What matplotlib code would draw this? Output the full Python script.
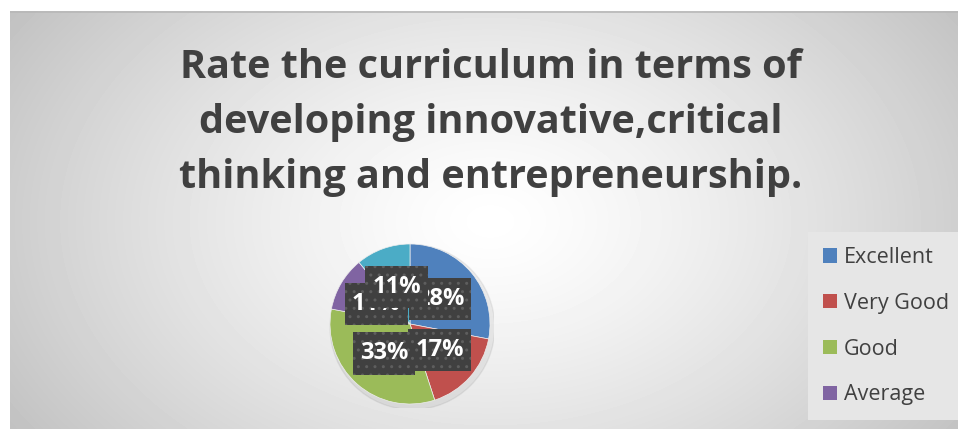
import numpy as np
import matplotlib
matplotlib.use("Agg")
import matplotlib.pyplot as plt
from matplotlib.patches import Patch

# data
categories = ["Excellent", "Very Good", "Good", "Average", "Poor"]
shares = [28, 17, 33, 11, 11]
slice_colors = ["#4F81BD", "#C0504D", "#9BBB59", "#8064A2", "#4BACC6"]
legend_shown = 4  # the fifth entry is cut off in the original
title_lines = ["Rate the curriculum in terms of",
               "developing innovative,critical",
               "thinking and entrepreneurship."]

W, H = 958, 429
plt.rcParams['font.family'] = ['Open Sans', 'DejaVu Sans']
fig = plt.figure(figsize=(W / 100, H / 100), dpi=100)
fig.patch.set_facecolor("white")

# gray radial-gradient chart area
bg = fig.add_axes([10 / W, 0, 1 - 10 / W, (H - 11) / H])
bg.set_axis_off()
yy, xx = np.mgrid[0:418, 0:948]
d = np.sqrt(((xx - 480) / 620.0) ** 2 + ((yy - 210) / 420.0) ** 2)
shade = np.clip(1.0 - 0.27 * d ** 1.3, 0.76, 1.0)
bg.imshow(shade, cmap="gray", vmin=0, vmax=1, aspect="auto",
          extent=[0, 948, 418, 0])
bg.plot([0, 948], [0.5, 0.5], color="#b8b8b8", lw=1.2)
bg.set_xlim(0, 948)
bg.set_ylim(418, 0)

# title
for line, base in zip(title_lines, [78, 133, 188]):
    fig.text(491 / W, 1 - base / H, line, ha="center", va="baseline",
             fontsize=28.5, fontweight="bold", color="#404040")

# pie
cx, cy, r = 410, 324, 84
ax = fig.add_axes([(cx - r) / W, (H - cy - r) / H, 2 * r / W, 2 * r / H])
ax.set_facecolor("none")
shadow = plt.Circle((0.03, -0.04), 1.03, color="#000000", alpha=0.06, zorder=0)
ax.add_patch(shadow)
wedges, texts, autotexts = ax.pie(
    shares, colors=slice_colors, startangle=90, counterclock=False,
    autopct="%1.0f%%", pctdistance=0.49, radius=1,
    wedgeprops=dict(linewidth=0.5, edgecolor="#eeeeee"),
    textprops=dict(color="white", fontsize=17, fontweight="bold"))
for t in autotexts:
    t.set_bbox(dict(boxstyle="square,pad=0.3", mutation_aspect=1.3,
                    facecolor="#404040", edgecolor="#5e5e5e", linewidth=0,
                    hatch=".."))
ax.set_xlim(-1.05, 1.05)
ax.set_ylim(-1.05, 1.05)
ax.set_aspect("equal")
ax.set_axis_off()

# legend
handles = [Patch(facecolor=c, edgecolor="none") for c in slice_colors[:legend_shown]]
leg = fig.legend(handles, categories[:legend_shown], loc="upper left",
                 bbox_to_anchor=(808 / W, 1 - 232 / H), frameon=True,
                 fontsize=15.5, labelcolor="#404040", handlelength=0.65,
                 handleheight=0.65, handletextpad=0.3, labelspacing=1.15,
                 borderpad=0.7, borderaxespad=0, fancybox=False)
leg.get_frame().set_facecolor("#e6e6e6")
leg.get_frame().set_edgecolor("none")
leg.get_frame().set_alpha(1)

fig.savefig("out.png", dpi=100)
